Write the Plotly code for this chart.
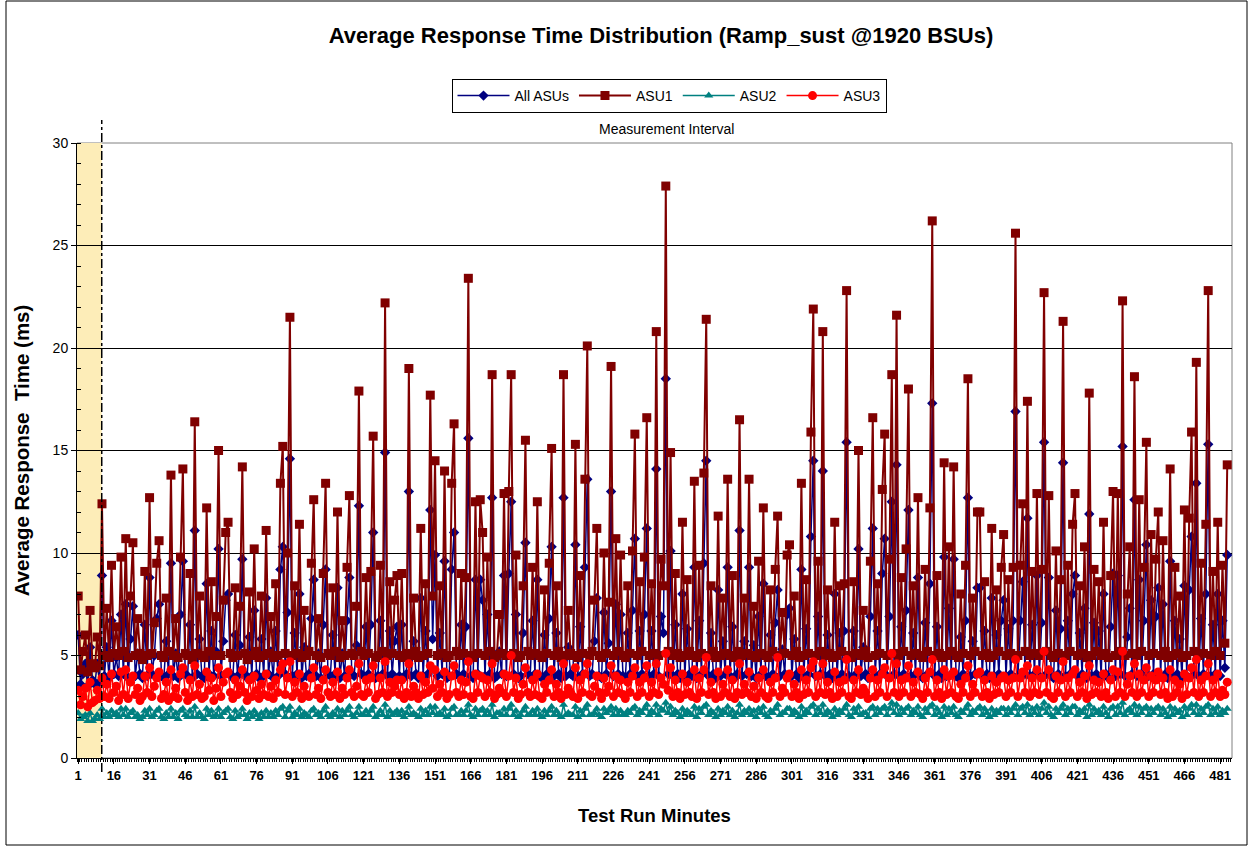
import plotly.graph_objects as go

# ---- data (ms per test-run minute) ----
asu1 = [
    7.9, 4.3, 5.2, 6.0, 4.2, 7.2, 4.6, 4.4, 5.9, 4.5,
    12.4, 5.0, 7.3, 4.9, 9.4, 5.1, 6.4, 5.0, 9.8, 5.2,
    10.7, 4.9, 7.9, 10.5, 5.0, 6.8, 5.1, 4.8, 9.1, 5.0,
    12.7, 5.1, 6.6, 9.5, 10.6, 5.0, 4.9, 7.8, 5.2, 13.8,
    5.0, 6.8, 4.9, 9.8, 14.1, 5.1, 5.0, 9.0, 4.8, 16.4,
    5.1, 7.9, 5.0, 4.9, 12.2, 5.2, 8.6, 5.0, 6.9, 15.0,
    5.0, 7.7, 11.0, 11.5, 5.1, 4.9, 8.3, 5.0, 7.4, 14.2,
    5.1, 4.8, 8.1, 5.0, 10.2, 5.2, 4.9, 7.9, 5.0, 11.1,
    5.1, 6.9, 4.9, 8.5, 5.0, 13.4, 15.2, 5.1, 10.0, 21.5,
    5.0, 8.4, 5.1, 11.4, 4.9, 7.2, 5.0, 5.2, 9.5, 12.6,
    5.0, 6.8, 4.9, 9.0, 13.4, 5.1, 5.0, 8.3, 5.2, 12.0,
    4.9, 6.7, 5.0, 9.3, 12.8, 5.1, 5.0, 7.4, 17.9, 5.2,
    5.0, 8.8, 5.1, 9.1, 15.7, 4.9, 5.0, 9.4, 5.2, 22.2,
    5.0, 8.6, 5.1, 7.7, 8.9, 5.0, 9.0, 4.9, 5.1, 19.0,
    5.0, 7.8, 5.2, 4.9, 11.2, 5.0, 8.5, 5.1, 17.7, 7.9,
    14.5, 5.0, 8.4, 5.1, 14.0, 4.9, 5.0, 13.4, 16.3, 5.2,
    5.0, 9.0, 5.1, 8.8, 23.4, 5.0, 4.9, 12.5, 5.1, 12.6,
    11.0, 5.0, 9.8, 5.2, 18.7, 4.9, 5.0, 7.0, 5.1, 12.9,
    5.0, 13.0, 18.7, 5.1, 9.9, 4.9, 5.0, 8.4, 15.5, 5.2,
    5.0, 9.3, 5.1, 12.5, 5.0, 4.9, 8.2, 5.1, 9.5, 15.1,
    5.0, 8.4, 5.2, 4.9, 18.7, 5.0, 7.2, 5.1, 5.0, 15.3,
    4.9, 8.9, 5.1, 13.6, 20.1, 5.0, 5.2, 7.7, 11.2, 5.0,
    4.9, 10.0, 5.1, 7.6, 19.1, 5.0, 10.7, 5.2, 9.9, 5.0,
    4.9, 8.4, 5.1, 10.1, 15.8, 5.0, 8.6, 5.2, 9.8, 16.6,
    5.0, 8.5, 5.1, 20.8, 5.0, 9.7, 8.4, 27.9, 5.2, 14.9,
    5.0, 9.0, 5.1, 4.9, 11.5, 5.0, 8.7, 5.2, 5.0, 13.5,
    4.9, 9.4, 5.1, 13.9, 21.4, 5.0, 8.4, 5.2, 4.9, 11.8,
    5.0, 7.8, 5.1, 13.6, 5.0, 8.9, 4.9, 5.2, 16.5, 5.0,
    7.8, 5.1, 13.6, 5.0, 7.4, 4.9, 9.6, 5.1, 12.2, 5.0,
    4.9, 8.2, 5.2, 9.2, 11.8, 5.0, 7.1, 5.1, 9.9, 10.4,
    5.0, 7.9, 5.2, 4.9, 13.4, 5.0, 8.7, 5.1, 15.9, 21.9,
    5.0, 9.6, 5.2, 20.8, 5.0, 8.2, 5.1, 4.9, 11.5, 5.0,
    8.4, 5.2, 8.5, 22.8, 5.0, 4.9, 8.6, 5.1, 15.0, 5.0,
    7.2, 5.2, 4.9, 9.6, 16.6, 5.0, 8.5, 5.1, 13.1, 15.8,
    5.0, 9.7, 18.7, 5.1, 21.6, 5.0, 8.8, 5.2, 10.2, 18.0,
    5.0, 8.4, 5.1, 12.7, 5.0, 4.9, 9.2, 5.2, 12.2, 26.2,
    5.0, 8.9, 5.1, 4.9, 14.4, 5.0, 10.3, 5.2, 14.2, 5.0,
    4.9, 8.0, 5.1, 9.4, 18.5, 5.0, 7.8, 5.2, 12.0, 12.0,
    5.0, 8.6, 5.1, 4.9, 11.2, 5.0, 8.2, 5.2, 9.3, 10.9,
    5.0, 8.7, 5.1, 9.3, 25.6, 5.0, 9.4, 12.4, 5.2, 17.4,
    5.0, 9.1, 5.1, 12.9, 5.0, 9.2, 22.7, 5.2, 12.8, 5.0,
    4.9, 10.1, 5.1, 8.7, 21.3, 5.0, 9.4, 5.2, 11.4, 12.9,
    5.0, 8.4, 5.1, 10.3, 4.9, 17.8, 5.0, 9.2, 5.2, 8.6,
    5.0, 11.5, 5.1, 4.9, 8.9, 13.0, 5.0, 12.9, 5.2, 22.3,
    5.0, 8.0, 10.3, 5.1, 18.6, 5.0, 12.6, 5.2, 9.3, 15.4,
    5.0, 10.9, 5.1, 9.7, 12.0, 5.0, 10.6, 5.2, 4.9, 14.1,
    5.0, 9.3, 5.1, 7.9, 4.9, 12.1, 5.0, 11.7, 15.9, 5.2,
    19.3, 5.0, 9.5, 5.1, 11.4, 22.8, 5.0, 9.1, 5.2, 11.5,
    5.0, 9.4, 5.6, 14.3,
]

all_asus = [
    6.0, 3.6, 4.1, 4.6, 3.5, 5.4, 3.8, 3.6, 4.6, 3.7,
    8.9, 4.0, 5.4, 3.9, 6.7, 4.1, 4.9, 4.0, 7.0, 4.1,
    7.5, 3.9, 5.8, 7.4, 4.0, 5.1, 4.1, 3.9, 6.5, 4.0,
    8.8, 4.1, 5.0, 6.8, 7.5, 4.0, 3.9, 5.7, 4.1, 9.5,
    4.0, 5.1, 3.9, 7.0, 9.6, 4.1, 4.0, 6.5, 3.9, 11.1,
    4.1, 5.8, 4.0, 3.9, 8.5, 4.1, 6.2, 4.0, 5.2, 10.2,
    4.0, 5.7, 7.7, 8.0, 4.1, 3.9, 6.0, 4.0, 5.5, 9.7,
    4.1, 3.9, 5.9, 4.0, 7.2, 4.1, 3.9, 5.8, 4.0, 7.8,
    4.1, 5.2, 3.9, 6.2, 4.0, 9.2, 10.3, 4.1, 7.1, 14.6,
    4.0, 6.1, 4.1, 8.0, 3.9, 5.4, 4.0, 4.1, 6.8, 8.7,
    4.0, 5.1, 3.9, 6.5, 9.2, 4.1, 4.0, 6.0, 4.1, 8.3,
    3.9, 5.1, 4.0, 6.7, 8.8, 4.1, 4.0, 5.5, 12.3, 4.1,
    4.0, 6.4, 4.1, 6.5, 11.0, 3.9, 4.0, 6.7, 4.1, 14.9,
    4.0, 6.2, 4.1, 5.7, 6.4, 4.0, 6.5, 3.9, 4.1, 13.0,
    4.0, 5.7, 4.1, 3.9, 7.8, 4.0, 6.2, 4.1, 12.1, 5.8,
    9.9, 4.0, 6.1, 4.1, 9.6, 3.9, 4.0, 9.2, 11.0, 4.1,
    4.0, 6.5, 4.1, 6.4, 15.6, 4.0, 3.9, 8.7, 4.1, 8.7,
    7.7, 4.0, 7.0, 4.1, 12.7, 3.9, 4.0, 5.2, 4.1, 8.9,
    4.0, 9.0, 12.5, 4.1, 7.0, 3.9, 4.0, 6.1, 10.5, 4.1,
    4.0, 6.7, 4.1, 8.7, 4.0, 3.9, 6.0, 4.1, 6.8, 10.3,
    4.0, 6.1, 4.1, 3.9, 12.7, 4.0, 5.4, 4.1, 4.0, 10.4,
    3.9, 6.4, 4.1, 9.3, 13.6, 4.0, 4.1, 5.7, 7.8, 4.0,
    3.9, 7.1, 4.1, 5.6, 13.0, 4.0, 7.5, 4.1, 7.0, 4.0,
    3.9, 6.1, 4.1, 7.2, 10.7, 4.0, 6.2, 4.1, 7.0, 11.2,
    4.0, 6.2, 4.1, 14.1, 4.0, 6.9, 6.1, 18.5, 4.1, 10.1,
    4.0, 6.5, 4.1, 3.9, 8.0, 4.0, 6.3, 4.1, 4.0, 9.3,
    3.9, 6.7, 4.1, 9.5, 14.5, 4.0, 6.1, 4.1, 3.9, 8.2,
    4.0, 5.7, 4.1, 9.3, 4.0, 6.4, 3.9, 4.1, 11.1, 4.0,
    5.7, 4.1, 9.3, 4.0, 5.5, 3.9, 6.9, 4.1, 8.5, 4.0,
    3.9, 6.0, 4.1, 6.6, 8.2, 4.0, 5.3, 4.1, 7.0, 7.3,
    4.0, 5.8, 4.1, 3.9, 9.2, 4.0, 6.3, 4.1, 10.8, 14.5,
    4.0, 6.9, 4.1, 14.0, 4.0, 6.0, 4.1, 3.9, 8.0, 4.0,
    6.1, 4.1, 6.2, 15.4, 4.0, 3.9, 6.2, 4.1, 10.2, 4.0,
    5.4, 4.1, 3.9, 6.9, 11.2, 4.0, 6.2, 4.1, 9.0, 10.7,
    4.0, 6.9, 12.5, 4.1, 14.3, 4.0, 6.4, 4.1, 7.2, 12.1,
    4.0, 6.1, 4.1, 8.8, 4.0, 3.9, 6.6, 4.1, 8.5, 17.3,
    4.0, 6.4, 4.1, 3.9, 9.8, 4.0, 7.3, 4.1, 9.7, 4.0,
    3.9, 5.9, 4.1, 6.7, 12.7, 4.0, 5.7, 4.1, 8.3, 8.3,
    4.0, 6.2, 4.1, 3.9, 7.8, 4.0, 6.0, 4.1, 6.7, 7.7,
    4.0, 6.3, 4.1, 6.7, 16.9, 4.0, 6.7, 8.6, 4.1, 11.7,
    4.0, 6.5, 4.1, 8.9, 4.0, 6.6, 15.4, 4.1, 8.8, 4.0,
    3.9, 7.2, 4.1, 6.3, 14.4, 4.0, 6.7, 4.1, 8.0, 8.9,
    4.0, 6.1, 4.1, 7.3, 3.9, 11.9, 4.0, 6.6, 4.1, 6.2,
    4.0, 8.0, 4.1, 3.9, 6.4, 9.0, 4.0, 8.9, 4.1, 15.2,
    4.0, 5.9, 7.3, 4.1, 12.6, 4.0, 8.7, 4.1, 6.7, 10.4,
    4.0, 7.7, 4.1, 6.9, 8.3, 4.0, 7.5, 4.1, 3.9, 9.6,
    4.0, 6.7, 4.1, 5.8, 3.9, 8.4, 4.0, 8.2, 10.8, 4.1,
    13.4, 4.0, 6.8, 4.1, 8.0, 15.3, 4.0, 6.5, 4.1, 8.0,
    4.0, 6.7, 4.4, 9.9,
]

asu2 = [
    2.2, 1.9, 2.0, 2.1, 1.8, 2.2, 1.8, 1.9, 2.1, 1.9,
    2.4, 2.0, 2.2, 2.0, 2.3, 2.1, 2.2, 2.0, 2.4, 2.1,
    2.4, 2.0, 2.2, 2.3, 2.0, 2.1, 1.9, 2.0, 2.3, 2.1,
    2.4, 2.0, 2.1, 2.3, 2.4, 2.0, 1.9, 2.2, 2.0, 2.4,
    2.0, 2.2, 1.9, 2.3, 2.4, 2.1, 2.0, 2.3, 2.0, 2.5,
    2.0, 2.2, 2.0, 1.9, 2.4, 2.1, 2.3, 2.0, 2.1, 2.4,
    2.0, 2.2, 2.3, 2.4, 2.0, 1.9, 2.3, 2.0, 2.1, 2.4,
    2.1, 1.9, 2.2, 2.0, 2.3, 2.1, 1.9, 2.2, 2.0, 2.3,
    2.0, 2.2, 2.0, 2.3, 2.1, 2.4, 2.5, 2.0, 2.3, 2.5,
    2.0, 2.2, 2.1, 2.4, 2.0, 2.2, 2.1, 2.0, 2.3, 2.4,
    2.1, 2.2, 2.0, 2.3, 2.5, 2.1, 2.0, 2.2, 2.1, 2.4,
    2.0, 2.3, 2.1, 2.3, 2.5, 2.1, 2.0, 2.2, 2.5, 2.1,
    2.1, 2.3, 2.1, 2.3, 2.5, 2.0, 2.1, 2.3, 2.1, 2.6,
    2.0, 2.3, 2.1, 2.2, 2.3, 2.1, 2.3, 2.0, 2.2, 2.5,
    2.1, 2.2, 2.1, 2.0, 2.4, 2.1, 2.3, 2.1, 2.5, 2.2,
    2.5, 2.1, 2.2, 2.1, 2.4, 2.0, 2.1, 2.4, 2.5, 2.1,
    2.1, 2.3, 2.1, 2.3, 2.6, 2.1, 2.0, 2.4, 2.1, 2.3,
    2.4, 2.1, 2.3, 2.1, 2.6, 2.0, 2.2, 2.2, 2.1, 2.4,
    2.1, 2.4, 2.6, 2.1, 2.3, 2.0, 2.1, 2.3, 2.5, 2.1,
    2.1, 2.3, 2.1, 2.4, 2.1, 2.0, 2.3, 2.1, 2.3, 2.5,
    2.1, 2.3, 2.1, 2.0, 2.6, 2.1, 2.2, 2.1, 2.1, 2.5,
    2.0, 2.3, 2.1, 2.4, 2.6, 2.1, 2.1, 2.2, 2.4, 2.1,
    2.0, 2.4, 2.2, 2.3, 2.5, 2.1, 2.4, 2.1, 2.3, 2.1,
    2.1, 2.3, 2.2, 2.4, 2.5, 2.1, 2.3, 2.2, 2.4, 2.6,
    2.1, 2.3, 2.2, 2.6, 2.1, 2.4, 2.3, 2.7, 2.2, 2.5,
    2.1, 2.3, 2.2, 2.0, 2.4, 2.1, 2.3, 2.2, 2.1, 2.5,
    2.0, 2.4, 2.2, 2.5, 2.6, 2.1, 2.3, 2.2, 2.0, 2.4,
    2.1, 2.3, 2.2, 2.5, 2.1, 2.3, 2.0, 2.2, 2.6, 2.1,
    2.3, 2.2, 2.4, 2.1, 2.3, 2.0, 2.4, 2.2, 2.5, 2.1,
    2.0, 2.3, 2.2, 2.4, 2.6, 2.1, 2.2, 2.2, 2.4, 2.4,
    2.1, 2.3, 2.2, 2.0, 2.5, 2.1, 2.3, 2.2, 2.5, 2.6,
    2.1, 2.4, 2.2, 2.6, 2.1, 2.3, 2.2, 2.0, 2.4, 2.1,
    2.3, 2.2, 2.4, 2.6, 2.1, 2.0, 2.4, 2.2, 2.5, 2.1,
    2.2, 2.2, 2.0, 2.4, 2.5, 2.1, 2.4, 2.2, 2.4, 2.5,
    2.1, 2.4, 2.7, 2.2, 2.6, 2.1, 2.4, 2.2, 2.4, 2.5,
    2.1, 2.3, 2.2, 2.5, 2.1, 2.0, 2.4, 2.2, 2.5, 2.6,
    2.1, 2.4, 2.2, 2.0, 2.5, 2.1, 2.4, 2.2, 2.5, 2.1,
    2.0, 2.3, 2.2, 2.4, 2.6, 2.1, 2.3, 2.2, 2.4, 2.5,
    2.1, 2.4, 2.2, 2.0, 2.4, 2.1, 2.3, 2.2, 2.4, 2.4,
    2.1, 2.4, 2.2, 2.4, 2.6, 2.1, 2.4, 2.5, 2.2, 2.6,
    2.1, 2.4, 2.2, 2.5, 2.1, 2.4, 2.7, 2.2, 2.5, 2.1,
    2.0, 2.4, 2.2, 2.4, 2.6, 2.1, 2.4, 2.2, 2.5, 2.5,
    2.1, 2.3, 2.2, 2.4, 2.0, 2.6, 2.1, 2.4, 2.2, 2.3,
    2.1, 2.5, 2.2, 2.0, 2.4, 2.5, 2.1, 2.5, 2.2, 2.7,
    2.1, 2.3, 2.4, 2.2, 2.6, 2.1, 2.5, 2.2, 2.4, 2.5,
    2.1, 2.4, 2.2, 2.4, 2.5, 2.1, 2.4, 2.2, 2.0, 2.5,
    2.1, 2.4, 2.2, 2.3, 2.0, 2.5, 2.1, 2.4, 2.6, 2.2,
    2.6, 2.1, 2.4, 2.2, 2.5, 2.6, 2.1, 2.4, 2.2, 2.5,
    2.1, 2.3, 2.2, 2.4,
]

asu3 = [
    3.3, 2.6, 3.0, 3.4, 2.5, 3.7, 2.7, 2.8, 3.3, 2.9,
    3.9, 3.0, 3.6, 2.9, 4.1, 3.2, 3.5, 2.8, 4.2, 3.1,
    4.3, 2.9, 3.7, 4.0, 3.1, 3.4, 2.8, 3.0, 4.0, 3.2,
    4.4, 3.0, 3.5, 3.9, 4.2, 2.9, 3.1, 3.7, 2.8, 4.3,
    3.0, 3.4, 2.9, 4.1, 4.4, 3.2, 2.8, 3.8, 3.0, 4.5,
    3.1, 3.6, 2.9, 3.0, 4.2, 3.3, 3.9, 2.8, 3.4, 4.4,
    3.0, 3.7, 4.1, 4.2, 3.2, 2.9, 3.8, 3.1, 3.5, 4.3,
    3.2, 2.8, 3.8, 3.0, 4.0, 3.3, 2.9, 3.6, 3.1, 4.1,
    3.0, 3.5, 2.9, 3.8, 3.2, 4.3, 4.6, 3.1, 3.9, 4.7,
    3.0, 3.7, 3.2, 4.1, 2.9, 3.5, 3.1, 3.0, 3.9, 4.4,
    3.1, 3.4, 2.9, 3.8, 4.3, 3.2, 3.0, 3.7, 3.1, 4.2,
    2.9, 3.4, 3.1, 3.9, 4.3, 3.2, 3.0, 3.5, 4.6, 3.1,
    3.0, 3.8, 3.2, 3.9, 4.5, 2.9, 3.1, 3.9, 3.2, 4.7,
    3.0, 3.7, 3.2, 3.5, 3.8, 3.1, 3.8, 2.9, 3.2, 4.6,
    3.0, 3.5, 3.2, 2.9, 4.0, 3.1, 3.7, 3.2, 4.5, 3.4,
    4.3, 3.0, 3.6, 3.2, 4.2, 2.9, 3.1, 4.0, 4.5, 3.2,
    3.0, 3.8, 3.1, 3.7, 4.7, 3.0, 2.9, 4.1, 3.2, 4.0,
    3.9, 3.0, 3.8, 3.2, 4.6, 2.9, 3.1, 3.4, 3.2, 4.1,
    3.0, 4.0, 5.0, 3.2, 3.9, 2.9, 3.1, 3.6, 4.4, 3.2,
    3.0, 3.8, 3.1, 4.1, 3.0, 2.9, 3.6, 3.2, 3.8, 4.3,
    3.0, 3.6, 3.2, 2.9, 4.6, 3.1, 3.4, 3.2, 3.0, 4.4,
    2.9, 3.8, 3.2, 4.1, 4.6, 3.1, 3.0, 3.5, 4.0, 3.2,
    2.9, 3.9, 3.2, 3.5, 4.5, 3.0, 4.0, 3.2, 3.8, 3.1,
    2.9, 3.7, 3.2, 4.0, 4.4, 3.0, 3.7, 3.2, 3.9, 4.5,
    3.0, 3.7, 3.2, 4.6, 3.1, 3.9, 3.6, 5.1, 3.3, 4.4,
    3.0, 3.8, 3.2, 2.9, 4.1, 3.1, 3.7, 3.2, 3.0, 4.3,
    2.9, 3.9, 3.2, 4.3, 4.9, 3.1, 3.7, 3.2, 2.9, 4.2,
    3.0, 3.6, 3.2, 4.3, 3.0, 3.8, 2.9, 3.2, 4.6, 3.1,
    3.6, 3.2, 4.2, 3.0, 3.5, 2.9, 3.9, 3.2, 4.3, 3.0,
    2.9, 3.7, 3.2, 3.9, 4.9, 3.0, 3.4, 3.2, 3.9, 4.1,
    3.0, 3.6, 3.2, 2.9, 4.3, 3.1, 3.8, 3.2, 4.4, 4.7,
    3.0, 4.0, 3.2, 4.6, 3.1, 3.7, 3.2, 2.9, 4.2, 3.0,
    3.7, 3.2, 3.8, 4.8, 3.0, 2.9, 3.8, 3.2, 4.3, 3.1,
    3.4, 3.2, 2.9, 3.9, 4.3, 3.0, 3.8, 3.2, 4.1, 4.4,
    3.0, 3.9, 5.1, 3.2, 4.6, 3.0, 3.8, 3.2, 3.9, 4.5,
    3.0, 3.7, 3.2, 4.2, 3.1, 2.9, 3.9, 3.2, 4.2, 4.8,
    3.0, 3.8, 3.2, 2.9, 4.3, 3.1, 4.0, 3.2, 4.2, 3.0,
    2.9, 3.6, 3.2, 3.9, 4.5, 3.0, 3.6, 3.2, 4.1, 4.2,
    3.0, 3.8, 3.2, 2.9, 4.0, 3.1, 3.7, 3.2, 3.9, 4.0,
    3.0, 3.8, 3.2, 3.9, 4.8, 3.0, 3.9, 4.2, 3.2, 4.5,
    3.0, 3.9, 3.2, 4.3, 3.1, 3.9, 5.2, 3.2, 4.3, 3.0,
    2.9, 4.0, 3.2, 3.8, 4.7, 3.0, 3.9, 3.2, 4.1, 4.3,
    3.0, 3.7, 3.2, 4.0, 2.9, 4.5, 3.1, 3.8, 3.2, 3.7,
    3.0, 4.1, 3.2, 2.9, 3.8, 4.3, 3.0, 4.2, 3.2, 5.2,
    3.0, 3.6, 4.0, 3.2, 4.6, 3.0, 4.1, 3.2, 3.8, 4.4,
    3.0, 4.0, 3.2, 3.8, 4.2, 3.1, 3.9, 3.2, 2.9, 4.3,
    3.0, 3.8, 3.2, 3.6, 2.9, 4.1, 3.1, 3.9, 4.4, 3.2,
    4.8, 3.0, 3.8, 3.2, 4.0, 4.6, 3.0, 3.8, 3.2, 4.1,
    3.0, 3.3, 3.1, 3.7,
]

x_tick_vals = list(range(1, 482, 15))
measurement_start = 10.9  # start of the measurement interval (minutes)

FONT = "Liberation Sans, Arial, sans-serif"

# plot-area geometry in page pixels
L, R, T, B = 77, 1232, 143, 758
PW, PH = R - L, B - T

series = [
    ("All ASUs", all_asus, "#000080", "diamond", 8, 1.5),
    ("ASU1", asu1, "#800000", "square", 9, 2.0),
    ("ASU2", asu2, "#008080", "triangle-up", 8, 1.5),
    ("ASU3", asu3, "#FF0000", "circle", 9, 1.5),
]

fig = go.Figure()
for name, vals, color, symbol, msize, lw in series:
    fig.add_trace(go.Scatter(
        x=list(range(1, len(vals) + 1)), y=vals, name=name,
        mode="lines+markers",
        line=dict(color=color, width=lw),
        marker=dict(symbol=symbol, size=msize, color=color, line=dict(width=0)),
    ))


def px_x(p):
    return (p - L) / PW


def px_y(p):
    return (B - p) / PH


shapes = [
    dict(type="rect", xref="x", yref="y", x0=0.5, x1=measurement_start, y0=0, y1=30,
         fillcolor="#FDEDB8", line=dict(width=0), layer="below"),
    dict(type="rect", xref="paper", yref="paper", x0=0, x1=1, y0=0, y1=1,
         line=dict(color="#808080", width=1), layer="below"),
    dict(type="line", xref="x", yref="paper", x0=measurement_start, x1=measurement_start,
         y0=px_y(772), y1=px_y(120), line=dict(color="black", width=1.5, dash="dashdot")),
    dict(type="rect", xref="paper", yref="paper",
         x0=px_x(6), x1=px_x(1247), y0=px_y(845), y1=px_y(1),
         line=dict(color="black", width=1)),
]

fig.update_layout(
    width=1250, height=847,
    margin=dict(l=L, r=1250 - R, t=T, b=847 - B, autoexpand=False),
    paper_bgcolor="white", plot_bgcolor="white",
    font=dict(family=FONT, color="black"),
    title=dict(text="<b>Average Response Time Distribution (Ramp_sust @1920 BSUs)</b>",
               x=661 / 1250, xanchor="center", y=1 - 35 / 847, yanchor="middle",
               font=dict(size=22, family=FONT, color="black")),
    showlegend=True,
    legend=dict(orientation="h", x=px_x(669), y=px_y(96),
                xanchor="center", yanchor="middle",
                bordercolor="black", borderwidth=1, bgcolor="white",
                font=dict(size=14, family=FONT), itemwidth=52,
                tracegroupgap=0),
    shapes=shapes,
    annotations=[dict(text="Measurement Interval", xref="paper", yref="paper",
                      x=px_x(666), y=px_y(129),
                      xanchor="center", yanchor="middle", showarrow=False,
                      font=dict(size=14, family=FONT))],
    xaxis=dict(
        range=[0.5, 486.0], tickmode="array", tickvals=x_tick_vals,
        ticktext=["<b>%d</b>" % v for v in x_tick_vals],
        tickfont=dict(size=13, family=FONT), ticks="outside", ticklen=5,
        tickcolor="black", showline=True, linecolor="black", linewidth=1,
        showgrid=False, zeroline=False,
        minor=dict(dtick=1, tick0=0.5, ticks="outside", ticklen=3,
                   tickcolor="black", showgrid=False),
        title=dict(text="<b>Test Run Minutes</b>", font=dict(size=18.5, family=FONT),
                   standoff=27),
    ),
    yaxis=dict(
        range=[0, 30], dtick=5, tick0=0, ticks="outside", ticklen=5,
        tickcolor="black", tickfont=dict(size=14, family=FONT),
        showline=True, linecolor="black", linewidth=1,
        showgrid=True, gridcolor="black", gridwidth=1, zeroline=False,
        minor=dict(dtick=1, ticks="inside", ticklen=4, tickcolor="black",
                   showgrid=False),
        title=dict(text="<b>Average Response  Time (ms)</b>",
                   font=dict(size=20.5, family=FONT), standoff=17),
    ),
)

fig.write_html("out.html", config={"displayModeBar": False},
               post_script="document.body.style.margin='0';")
